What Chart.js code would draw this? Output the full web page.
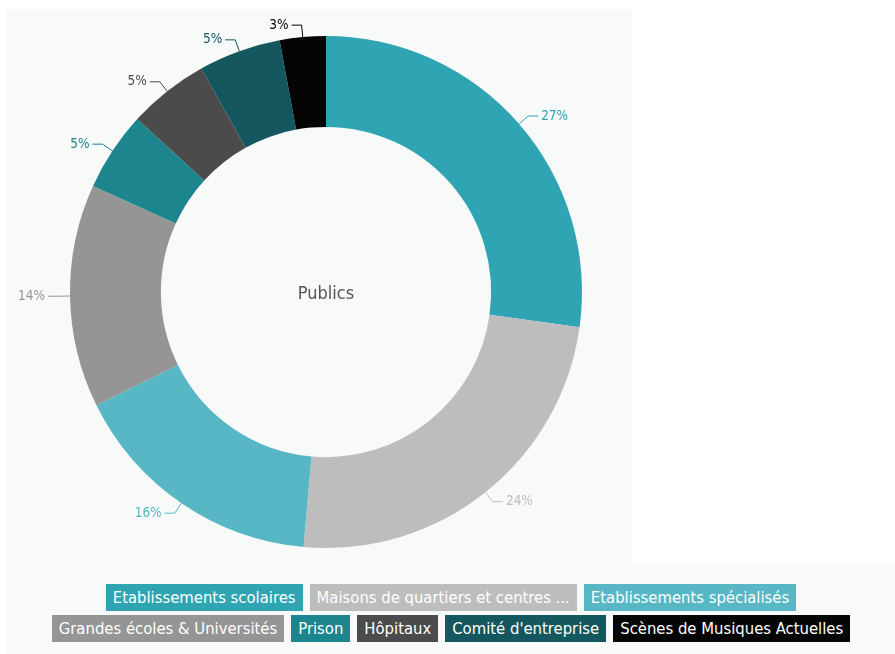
<!DOCTYPE html>
<html>
<head>
<meta charset="utf-8">
<script src="https://cdn.jsdelivr.net/npm/chart.js@4"></script>
<style>
  body { margin: 0; background: #fff; width: 895px; height: 654px; overflow: hidden; position: relative; font-family: 'Liberation Sans Narrow', 'DejaVu Sans Condensed', 'Roboto', sans-serif; }
  #panel { position: absolute; left: 7px; top: 9px; width: 625px; height: 554px; background: #f8f9f9; }
  #legendArea { position: absolute; left: 7px; top: 563px; width: 888px; height: 91px; background: #f8f9f9; }
  #legend { position: absolute; left: 0; right: 0; top: 21px; text-align: center; }
  .row { display: flex; justify-content: center; gap: 7px; margin-bottom: 4px; }
  .item { color: #fff; font-size: 16.5px; line-height: 27px; height: 27px; padding: 0 7px; white-space: nowrap; font-stretch: condensed; }
</style>
</head>
<body>
<div id="panel"><canvas id="publics-chart"></canvas></div>
<div id="legendArea"><div id="legend"></div></div>
<script>
// Publics donut
const labels = [
  'Etablissements scolaires',
  'Maisons de quartiers et centres ...',
  'Etablissements spécialisés',
  'Grandes écoles & Universités',
  'Prison',
  'Hôpitaux',
  "Comité d'entreprise",
  'Scènes de Musiques Actuelles'
];
const shares = [27.2, 24.2, 16.3, 14.1, 5.0, 5.1, 5.2, 2.9];
const pctLabels = ['27%', '24%', '16%', '14%', '5%', '5%', '5%', '3%'];
const colors = ['#2fa5b3', '#bebdbd', '#58b7c4', '#959595', '#1d858e', '#4b4b4b', '#14575f', '#050505'];
const legendRows = [[0, 1, 2], [3, 4, 5, 6, 7]];

const labelFont = "13.5px 'Liberation Sans Narrow', 'DejaVu Sans Condensed', sans-serif";

const centerText = {
  id: 'centerText',
  afterDraw(chart) {
    const arc = chart.getDatasetMeta(0).data[0];
    if (!arc) return;
    const ctx = chart.ctx;
    ctx.save();
    ctx.font = "18px 'Liberation Sans Narrow', 'DejaVu Sans Condensed', sans-serif";
    ctx.fillStyle = '#545454';
    ctx.textAlign = 'center';
    ctx.textBaseline = 'middle';
    ctx.fillText('Publics', arc.x, arc.y + 2);
    ctx.restore();
  }
};

const leaderLabels = {
  id: 'leaderLabels',
  afterDatasetsDraw(chart) {
    const ctx = chart.ctx;
    chart.getDatasetMeta(0).data.forEach((arc, i) => {
      const p = arc.getProps(['x', 'y', 'startAngle', 'endAngle', 'outerRadius'], true);
      const a = (p.startAngle + p.endAngle) / 2;
      const x0 = p.x + Math.cos(a) * p.outerRadius;
      const y0 = p.y + Math.sin(a) * p.outerRadius;
      const x1 = p.x + Math.cos(a) * (p.outerRadius + 12);
      const y1 = p.y + Math.sin(a) * (p.outerRadius + 12);
      const dir = Math.cos(a) >= 0 ? 1 : -1;
      const x2 = x1 + dir * 10;
      ctx.save();
      ctx.strokeStyle = colors[i];
      ctx.lineWidth = 1;
      ctx.beginPath();
      ctx.moveTo(x0, y0);
      ctx.lineTo(x1, y1);
      ctx.lineTo(x2, y1);
      ctx.stroke();
      ctx.font = labelFont;
      ctx.fillStyle = colors[i];
      ctx.textBaseline = 'middle';
      ctx.textAlign = dir > 0 ? 'left' : 'right';
      ctx.fillText(pctLabels[i], x2 + dir * 3, y1);
      ctx.restore();
    });
  }
};

const canvas = document.getElementById('publics-chart');
canvas.width = 625;
canvas.height = 554;

const chart = new Chart(canvas.getContext('2d'), {
  type: 'doughnut',
  data: {
    labels: labels,
    datasets: [{
      data: shares,
      backgroundColor: colors,
      borderWidth: 0
    }]
  },
  options: {
    responsive: false,
    animation: false,
    cutout: '64.5%',
    layout: { padding: { left: 63, right: 50, top: 27, bottom: 15 } },
    plugins: {
      legend: { display: false },
      tooltip: { enabled: false }
    }
  },
  plugins: [leaderLabels, centerText]
});

// html legend built from the chart's own legend items
const items = chart.options.plugins.legend.labels.generateLabels(chart);
const legendEl = document.getElementById('legend');
legendRows.forEach(row => {
  const rowEl = document.createElement('div');
  rowEl.className = 'row';
  row.forEach(i => {
    const span = document.createElement('span');
    span.className = 'item';
    span.style.background = items[i].fillStyle;
    span.textContent = items[i].text;
    rowEl.appendChild(span);
  });
  legendEl.appendChild(rowEl);
});
</script>
</body>
</html>
